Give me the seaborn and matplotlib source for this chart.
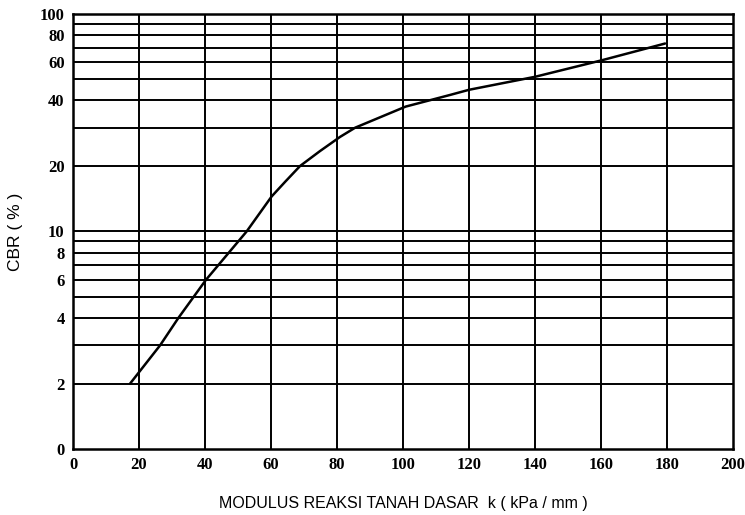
import matplotlib
matplotlib.use('Agg')
import matplotlib.pyplot as plt
import seaborn as sns
import pandas as pd

# curve
k_values = [17.3, 26.4, 31.9, 40.3, 52.6, 60.2, 64.4, 68.8, 74.8, 80.9,
            85.5, 100.8, 114.2, 120, 140, 160, 179.4]
cbr_values = [2, 3, 4, 6, 10, 14.5, 17, 20, 23.4, 27.2,
              30, 37.5, 42.4, 44.8, 51.4, 61.1, 73.1]

x_ticks = [0, 20, 40, 60, 80, 100, 120, 140, 160, 180, 200]
y_ticks = [1, 2, 4, 6, 8, 10, 20, 40, 60, 80, 100]
y_tick_labels = ['0', '2', '4', '6', '8', '10', '20', '40', '60', '80', '100']
y_grid = [2, 3, 4, 5, 6, 7, 8, 9, 10, 20, 30, 40, 50, 60, 70, 80, 90]

df = pd.DataFrame({'k': k_values, 'cbr': cbr_values})

sns.set_style("white")
plt.rcParams['font.family'] = ['Liberation Sans', 'DejaVu Sans']
plt.rcParams['text.color'] = 'black'
plt.rcParams['axes.labelcolor'] = 'black'
plt.rcParams['xtick.color'] = 'black'
plt.rcParams['ytick.color'] = 'black'

fig = plt.figure(figsize=(7.45, 5.15), dpi=100)
ax = fig.add_axes([0.098, 0.128, 0.886, 0.845])

sns.lineplot(x='k', y='cbr', data=df, color='black', linewidth=1.8, ax=ax)

ax.set_yscale('log')
ax.set_xlim(0, 200)
ax.set_ylim(1, 100)

# grid
for xv in x_ticks[1:-1]:
    ax.axvline(xv, color='black', linewidth=1.4, zorder=0)
for yv in y_grid:
    ax.axhline(yv, color='black', linewidth=1.4, zorder=0)

ax.set_xticks(x_ticks)
ax.set_xticklabels([str(v) for v in x_ticks], family='Liberation Serif',
                   fontsize=12, fontweight='bold')
ax.set_yticks(y_ticks)
ax.set_yticklabels(y_tick_labels, family='Liberation Serif', fontsize=12,
                   fontweight='bold')
ax.yaxis.set_minor_locator(matplotlib.ticker.NullLocator())
ax.tick_params(axis='both', length=0, pad=6)

for s in ax.spines.values():
    s.set_color('black')
    s.set_linewidth(1.8)

ax.set_xlabel('MODULUS REAKSI TANAH DASAR  k ( kPa / mm )', fontsize=11.5,
              labelpad=16)
ax.set_ylabel('CBR ( % )', fontsize=12.5, labelpad=12)

fig.savefig('out.png', dpi=100)
